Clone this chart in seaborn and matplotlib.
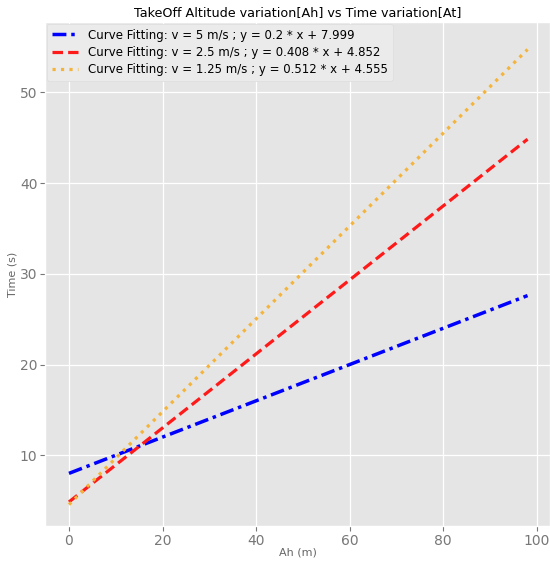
import numpy as np
import pandas as pd
import matplotlib
matplotlib.use("Agg")
import matplotlib.pyplot as plt
import seaborn as sns

altitude = [0, 14, 28, 42, 56, 70, 84, 98]
slopes = [0.2, 0.408, 0.512]
intercepts = [7.999, 4.852, 4.555]
speeds = ["5", "2.5", "1.25"]
colors = ["#0000ff", "#ff1a1a", "#f4b43c"]
dash_patterns = [(4.0, 1.4, 1, 1.4), (3.3, 1.6), (1, 1.65)]
widths = [2.5, 2.3, 2.3]

plt.style.use("ggplot")
fig, ax = plt.subplots(figsize=(5.5, 5.66), dpi=100)
fig.subplots_adjust(left=0.082, right=1.0, top=0.961, bottom=0.0707)

x = np.array(altitude, dtype=float)
labels = []
for s, b, v, c, lw, d in zip(slopes, intercepts, speeds, colors, widths, dash_patterns):
    df = pd.DataFrame({"Ah": x, "T": s * x + b})
    lab = f"Curve Fitting: v = {v} m/s ; y = {s} * x + {b}"
    labels.append(lab)
    sns.lineplot(data=df, x="Ah", y="T", ax=ax, color=c, linewidth=lw,
                 linestyle=(0, d), legend=False)

lines = ax.get_lines()

ax.set_title("TakeOff Altitude variation[Ah] vs Time variation[At]", fontsize=9.2, color="black", pad=4)
ax.set_xlabel("Ah (m)", fontsize=8, color="#666666", labelpad=0)
ax.set_ylabel("Time (s)", fontsize=8, color="#666666", labelpad=2)
ax.tick_params(axis="both", labelsize=10, colors="#777777", pad=2)
ax.set_xticks([0, 20, 40, 60, 80, 100])
ax.set_yticks([10, 20, 30, 40, 50])
ax.set_xlim(-5.1, 102.8)
ax.set_ylim(2.2, 57.75)
ax.grid(True, color="white", linewidth=0.9)
leg = ax.legend(handles=lines, labels=labels, loc="upper left", fontsize=8.5, frameon=True,
                borderaxespad=0.15, labelspacing=0.35, handlelength=2.2, handletextpad=0.9)
leg.get_frame().set_facecolor("#ebebeb")
leg.get_frame().set_edgecolor("#dddddd")
leg.get_frame().set_alpha(1.0)
fig.savefig("out.png", dpi=100)
